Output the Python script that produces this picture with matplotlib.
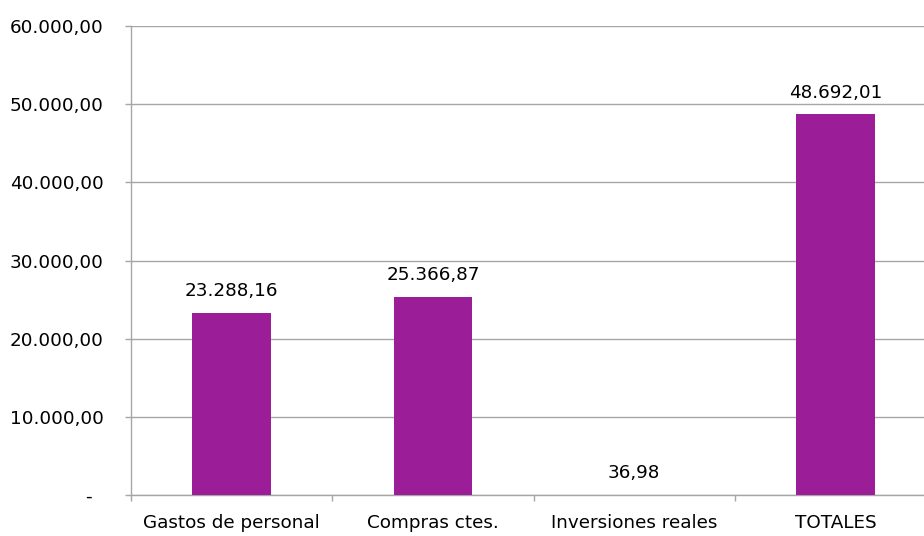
import matplotlib.pyplot as plt
from matplotlib.ticker import FuncFormatter

categorias = ['Gastos de personal', 'Compras ctes.', 'Inversiones reales', 'TOTALES']
valores = [23288.16, 25366.87, 36.98, 48692.01]
yticks = [0, 10000, 20000, 30000, 40000, 50000, 60000]


def fmt_es(v, pos=None):
    if v == 0:
        return '-  '
    s = f'{v:,.2f}'
    return s.replace(',', 'X').replace('.', ',').replace('X', '.')


plt.rcParams['font.family'] = ['DejaVu Sans']
fig = plt.figure(figsize=(9.24, 5.36), dpi=100)
# el eje se sale un poco por la derecha, como en el original
ax = fig.add_axes([131 / 924, 1 - 495 / 536, (936 - 131) / 924, (495 - 26) / 536])

color_barra = '#9B1D97'
gris = '#A6A6A6'
fs = 13.2
x = list(range(len(categorias)))
barras = ax.bar(x, valores, width=0.39, color=color_barra, zorder=3)

for xi, v in zip(x, valores):
    ax.annotate(fmt_es(v), (xi, v), xytext=(0, 12), textcoords='offset points',
                ha='center', va='baseline', fontsize=fs, color='black')

ax.set_xlim(-0.5, len(categorias) - 0.5)
ax.set_ylim(0, 60000)
ax.set_yticks(yticks)
ax.yaxis.set_major_formatter(FuncFormatter(fmt_es))
ax.yaxis.grid(True, color=gris, linewidth=1, zorder=0)

ax.set_xticks(x)
ax.set_xticklabels(categorias)
ax.set_xticks([i + 0.5 for i in range(-1, len(categorias))], minor=True)
ax.tick_params(axis='x', which='major', length=0, pad=14, labelsize=fs)
ax.tick_params(axis='x', which='minor', length=4.5, color=gris, width=1)
ax.tick_params(axis='y', length=4.5, color=gris, width=1, labelsize=fs, pad=15)

for s in ['top', 'right']:
    ax.spines[s].set_visible(False)
for s in ['left', 'bottom']:
    ax.spines[s].set_color(gris)
    ax.spines[s].set_linewidth(1)

fig.savefig('out.png', dpi=100)
